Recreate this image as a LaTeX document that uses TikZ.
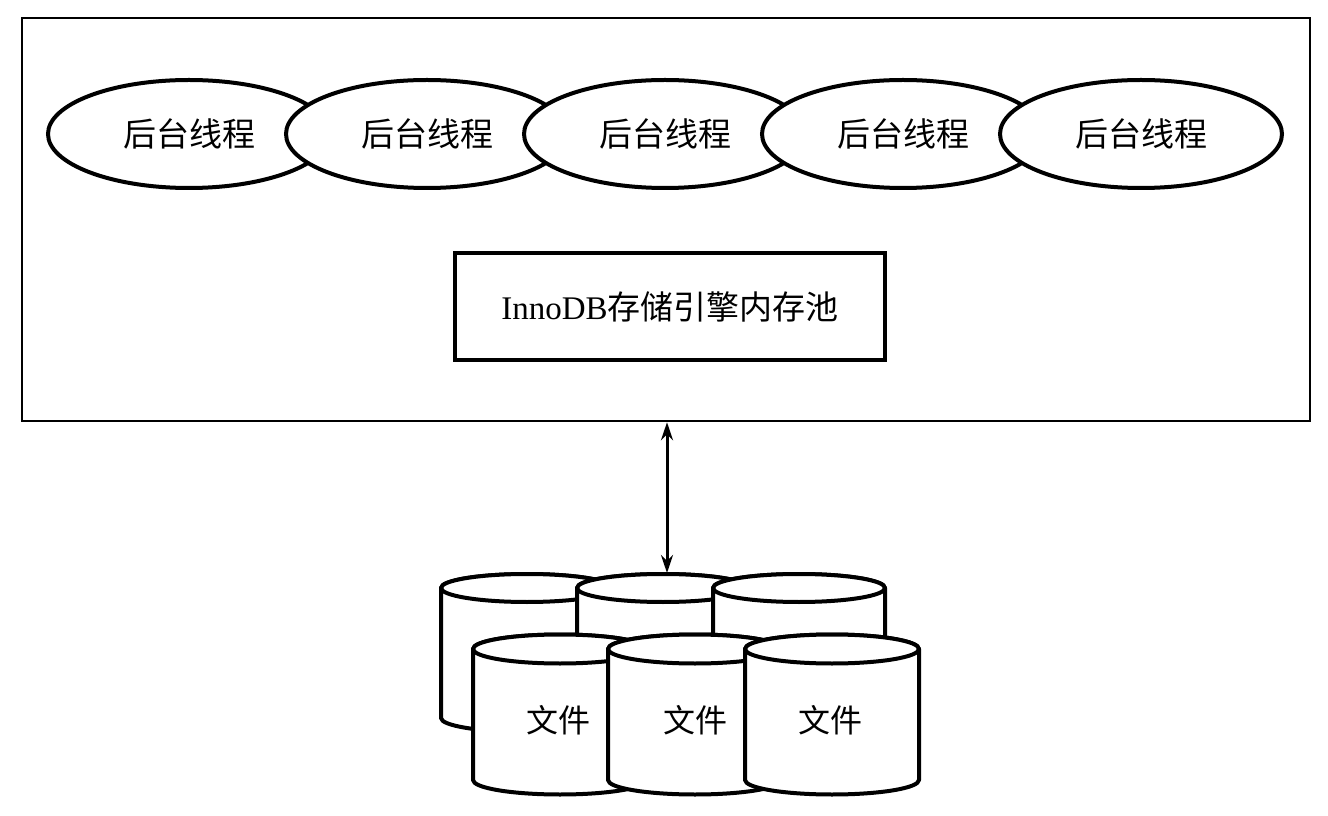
\documentclass[tikz,border=0pt]{standalone}
\usepackage{fontspec}
\setmainfont{Liberation Serif}
\newfontfamily\cjk{Noto Sans CJK SC}
\usetikzlibrary{shapes.geometric,arrows.meta}
\tikzset{
  x=1pt,y=1pt,
  outerbox/.style={draw,line width=2.5pt,minimum width=1288pt,minimum height=403pt,inner sep=0pt},
  thread/.style={ellipse,draw,fill=white,line width=4pt,minimum width=282pt,minimum height=108pt,inner sep=0pt,font=\cjk\fontsize{33}{38}\selectfont},
  poolbox/.style={draw,line width=4.5pt,minimum width=430pt,minimum height=107pt,inner sep=0pt,font=\fontsize{33}{39}\selectfont},
  cyl/.style={draw,fill=white,line width=4pt,line join=round},
  filelabel/.style={font=\cjk\fontsize{32}{37}\selectfont,inner sep=0pt},
  link/.style={line width=3pt,{Stealth[length=18pt,width=12pt]}-{Stealth[length=18pt,width=12pt]}}
}
\newcommand\dbcyl[5]{% cx, top centre y, bottom centre y, rx, ry
  \path[cyl] (#1-#4,#2) -- (#1-#4,#3) arc[start angle=180,end angle=360,x radius=#4,y radius=#5] -- (#1+#4,#2) arc[start angle=0,end angle=180,x radius=#4,y radius=#5] -- cycle;
  \path[cyl] (#1,#2) ellipse[x radius=#4,y radius=#5];
}
\begin{document}
\begin{tikzpicture}
\useasboundingbox (0,0) rectangle (1328,815);
\node[outerbox] (outer) at (666,595.5) {};
\node[thread] (t1) at (189,681) {后台线程};
\node[thread] (t2) at (427,681) {后台线程};
\node[thread] (t3) at (665,681) {后台线程};
\node[thread] (t4) at (903,681) {后台线程};
\node[thread] (t5) at (1141,681) {后台线程};
\node[poolbox] (pool) at (670,508.5) {InnoDB{\cjk 存储引擎内存池}};
% back row of files
\dbcyl{527}{227}{97}{86}{14}
\dbcyl{663}{227}{97}{86}{14}
\dbcyl{799}{227}{97}{86}{14}
% front row of files
\dbcyl{560}{166}{35}{87}{14.5}
\dbcyl{695}{166}{35}{87}{14.5}
\dbcyl{832}{166}{35}{87}{14.5}
\node[filelabel] (f1) at (558,95) {文件};
\node[filelabel] (f2) at (695,95) {文件};
\node[filelabel] (f3) at (830,95) {文件};
\coordinate (dbtop) at (667,242);
\draw[link] (outer.south -| dbtop) -- (dbtop);
\end{tikzpicture}
\end{document}
